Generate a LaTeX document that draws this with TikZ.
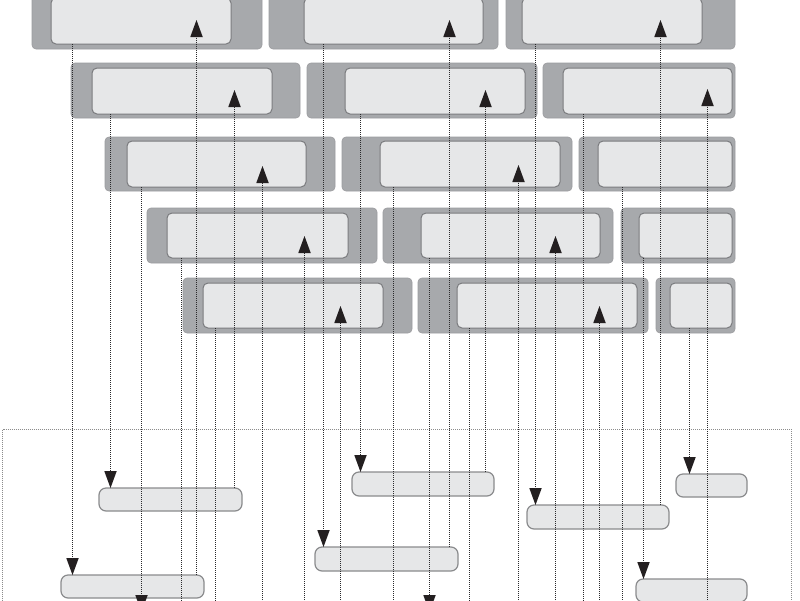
\documentclass[tikz,border=0pt]{standalone}
\usetikzlibrary{arrows.meta,calc}
\definecolor{outerg}{HTML}{A7A9AC}
\definecolor{outerd}{HTML}{9A9B9E}
\definecolor{innerf}{HTML}{E6E7E8}
\definecolor{innerd}{HTML}{7A7B7E}
\definecolor{botd}{HTML}{8A8B8D}
\definecolor{lineg}{HTML}{2A2A2C}
\definecolor{tipc}{HTML}{231F20}
\definecolor{frameg}{HTML}{8C8C8C}
\newcommand{\bx}[6]{\node[#2, anchor=north west, minimum width={(#5-(#3))*1pt}, minimum height={(#6-(#4))*1pt}] (#1) at (#3,#4) {};}
\tikzset{
  outerbox/.style={fill=outerg, draw=outerd, line width=0.6pt, rounded corners=4pt, inner sep=0pt, outer sep=0pt},
  innerbox/.style={fill=innerf, draw=innerd, line width=1pt, rounded corners=5pt, inner sep=0pt, outer sep=0pt},
  botbox/.style={fill=innerf, draw=botd, line width=1.2pt, rounded corners=7pt, inner sep=0pt, outer sep=0pt},
  conn/.style={draw=lineg, line width=1.3pt, dash pattern=on 1.2pt off 0.8pt},
  arr/.style={conn, -{Triangle[width=12.5pt,length=17pt,fill=tipc,color=tipc,line width=0pt]}},
  framebox/.style={draw=frameg, line width=1pt, dash pattern=on 1pt off 1pt}
}
\begin{document}
\begin{tikzpicture}[x=1pt,y=-1pt]
\useasboundingbox (0,0) rectangle (800,600);
\clip (0,0) rectangle (800,600);
% outer boxes
\bx{A1o}{outerbox}{32}{-6}{262}{49}
\bx{B1o}{outerbox}{269}{-6}{498}{49}
\bx{C1o}{outerbox}{506}{-6}{735}{49}
\bx{A2o}{outerbox}{71}{63}{300}{118}
\bx{B2o}{outerbox}{307}{63}{537}{118}
\bx{C2o}{outerbox}{543}{63}{735}{118}
\bx{A3o}{outerbox}{105}{137}{335}{191}
\bx{B3o}{outerbox}{342}{137}{572}{191}
\bx{C3o}{outerbox}{579}{137}{735}{191}
\bx{A4o}{outerbox}{147}{208}{377}{263}
\bx{B4o}{outerbox}{383}{208}{613}{263}
\bx{C4o}{outerbox}{621}{208}{735}{263}
\bx{A5o}{outerbox}{183}{278}{412}{333}
\bx{B5o}{outerbox}{418}{278}{648}{333}
\bx{C5o}{outerbox}{656}{278}{735}{333}
% inner boxes
\bx{A1i}{innerbox}{51}{-2}{231}{44}
\bx{B1i}{innerbox}{304}{-2}{483}{44}
\bx{C1i}{innerbox}{522}{-2}{702}{44}
\bx{A2i}{innerbox}{92}{68}{272}{114}
\bx{B2i}{innerbox}{345}{68}{525}{114}
\bx{C2i}{innerbox}{563}{68}{732}{114}
\bx{A3i}{innerbox}{127}{141}{306}{187}
\bx{B3i}{innerbox}{380}{141}{560}{187}
\bx{C3i}{innerbox}{598}{141}{732}{187}
\bx{A4i}{innerbox}{167}{213}{348}{258}
\bx{B4i}{innerbox}{421}{213}{600}{258}
\bx{C4i}{innerbox}{639}{213}{732}{258}
\bx{A5i}{innerbox}{203}{283}{383}{328}
\bx{B5i}{innerbox}{457}{283}{637}{328}
\bx{C5i}{innerbox}{670}{283}{732}{328}
% frame
\draw[framebox] (2.5,429.5) rectangle (791.5,650);
% bottom boxes
\bx{A2b}{botbox}{99}{488}{242}{511}
\bx{A1b}{botbox}{61}{575}{204}{598}
\bx{B2b}{botbox}{352}{472}{494}{496}
\bx{B1b}{botbox}{315}{547}{458}{571}
\bx{C1b}{botbox}{527}{505}{669}{529}
\bx{C5b}{botbox}{676}{474}{747}{497}
\bx{C4b}{botbox}{636}{579}{747}{602}
% column coordinates
\coordinate (xA1d) at (72.5,0);  \coordinate (xA1u) at (196.5,0);
\coordinate (xA2d) at (110.5,0); \coordinate (xA2u) at (234.5,0);
\coordinate (xA3d) at (141.5,0); \coordinate (xA3u) at (262.5,0);
\coordinate (xA4d) at (181.5,0); \coordinate (xA4u) at (304.5,0);
\coordinate (xA5d) at (215.5,0); \coordinate (xA5u) at (340.5,0);
\coordinate (xB1d) at (323.5,0); \coordinate (xB1u) at (449.5,0);
\coordinate (xB2d) at (360.5,0); \coordinate (xB2u) at (485.5,0);
\coordinate (xB3d) at (393.5,0); \coordinate (xB3u) at (518.5,0);
\coordinate (xB4d) at (429.5,0); \coordinate (xB4u) at (555.5,0);
\coordinate (xB5d) at (469.5,0); \coordinate (xB5u) at (599.5,0);
\coordinate (xC1d) at (535.5,0); \coordinate (xC1u) at (660.5,0);
\coordinate (xC2d) at (583.5,0); \coordinate (xC2u) at (707.5,0);
\coordinate (xC3d) at (622.5,0);
\coordinate (xC4d) at (643.5,0);
\coordinate (xC5d) at (689.5,0);
% free ends below the visible area
\coordinate (eA3) at (141.5,612);
\coordinate (eA4) at (181.5,640);
\coordinate (eA5) at (215.5,640);
\coordinate (eB3) at (393.5,640);
\coordinate (eB4) at (429.5,612);
\coordinate (eB5) at (469.5,640);
\coordinate (eC2) at (583.5,640);
\coordinate (eC3) at (622.5,640);
\coordinate (sA3) at (262.5,640);
\coordinate (sA4) at (304.5,640);
\coordinate (sA5) at (340.5,640);
\coordinate (sB3) at (518.5,640);
\coordinate (sB4) at (555.5,640);
\coordinate (sB5) at (599.5,640);
\coordinate (sC2) at (707.5,640);
% down connectors
\draw[arr] (A1i.south -| xA1d) -- (A1b.north -| xA1d);
\draw[arr] (A2i.south -| xA2d) -- (A2b.north -| xA2d);
\draw[arr] (A3i.south -| xA3d) -- (eA3);
\draw[arr] (A4i.south -| xA4d) -- (eA4);
\draw[arr] (A5i.south -| xA5d) -- (eA5);
\draw[arr] (B1i.south -| xB1d) -- (B1b.north -| xB1d);
\draw[arr] (B2i.south -| xB2d) -- (B2b.north -| xB2d);
\draw[arr] (B3i.south -| xB3d) -- (eB3);
\draw[arr] (B4i.south -| xB4d) -- (eB4);
\draw[arr] (B5i.south -| xB5d) -- (eB5);
\draw[arr] (C1i.south -| xC1d) -- (C1b.north -| xC1d);
\draw[arr] (C2i.south -| xC2d) -- (eC2);
\draw[arr] (C3i.south -| xC3d) -- (eC3);
\draw[arr] (C4i.south -| xC4d) -- (C4b.north -| xC4d);
\draw[arr] (C5i.south -| xC5d) -- (C5b.north -| xC5d);
% up connectors
\draw[arr] (A1b.north -| xA1u) -- ($(A1i.south -| xA1u)+(0,-24)$);
\draw[arr] (A2b.north -| xA2u) -- ($(A2i.south -| xA2u)+(0,-24)$);
\draw[arr] (sA3) -- ($(A3i.south -| xA3u)+(0,-21)$);
\draw[arr] (sA4) -- ($(A4i.south -| xA4u)+(0,-22)$);
\draw[arr] (sA5) -- ($(A5i.south -| xA5u)+(0,-22)$);
\draw[arr] (B1b.north -| xB1u) -- ($(B1i.south -| xB1u)+(0,-24)$);
\draw[arr] (B2b.north -| xB2u) -- ($(B2i.south -| xB2u)+(0,-24)$);
\draw[arr] (sB3) -- ($(B3i.south -| xB3u)+(0,-22)$);
\draw[arr] (sB4) -- ($(B4i.south -| xB4u)+(0,-22)$);
\draw[arr] (sB5) -- ($(B5i.south -| xB5u)+(0,-22)$);
\draw[arr] (C1b.north -| xC1u) -- ($(C1i.south -| xC1u)+(0,-24)$);
\draw[arr] (sC2) -- ($(C2i.south -| xC2u)+(0,-25)$);
\end{tikzpicture}
\end{document}
